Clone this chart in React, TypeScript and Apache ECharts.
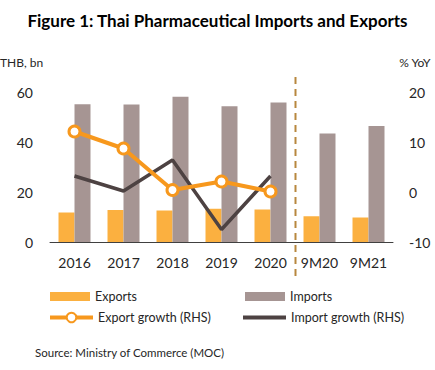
import React, { useEffect, useRef } from "react";
import * as echarts from "echarts";

const categories = ["2016", "2017", "2018", "2019", "2020", "9M20", "9M21"];
const exportsVal = [11.8, 12.8, 12.6, 13.3, 13.0, 10.3, 9.8];
const importsVal = [55.1, 55.0, 58.1, 54.3, 55.8, 43.4, 46.4];
const exportGrowth: (number | null)[] = [12.1, 8.7, 0.4, 2.1, 0.1, null, null];
const importGrowth: (number | null)[] = [3.2, 0.2, 6.4, -7.5, 3.2, null, null];
const leftTicks = { min: 0, max: 60, interval: 20 };
const rightTicks = { min: -10, max: 20, interval: 10 };

const FONT = "Lato";
const TXT = "#262626";
const C_EXP = "#FBB040";
const C_IMP = "#A69593";
const C_EXPG = "#F7981D";
const C_IMPG = "#4D4242";
const C_DASH = "#B8873E";

export default function App() {
  const ref = useRef<HTMLDivElement>(null);
  useEffect(() => {
    if (!ref.current) return;
    const chart = echarts.init(ref.current, null, { renderer: "svg" });
    const legendText = { fontFamily: FONT, fontSize: 12.5, color: TXT };
    chart.setOption({
      animation: false,
      backgroundColor: "#fff",
      textStyle: { fontFamily: FONT },
      title: {
        text: "Figure 1: Thai Pharmaceutical Imports and Exports",
        left: "center",
        top: 7,
        textStyle: { fontFamily: FONT, fontSize: 17, fontWeight: "bold", color: "#000" },
      },
      grid: { left: 50, right: 42, top: 92, bottom: 128 },
      legend: [
        { data: ["Exports"], left: 50, top: 290, itemWidth: 40, itemHeight: 9, itemGap: 4, textStyle: legendText, icon: "rect", padding: 0 },
        { data: ["Imports"], left: 245, top: 290, itemWidth: 40, itemHeight: 9, itemGap: 4, textStyle: legendText, icon: "rect", padding: 0 },
        {
          data: ["Export growth (RHS)"], left: 48, top: 311, itemWidth: 43, itemHeight: 12,
          textStyle: legendText, padding: 0,
          lineStyle: { width: 4, color: C_EXPG },
        },
        {
          data: [{ name: "Import growth (RHS)", icon: "rect" }], left: 243, top: 311, itemWidth: 43, itemHeight: 4,
          textStyle: legendText, padding: 0,
        },
      ],
      xAxis: {
        type: "category",
        data: categories,
        axisLine: { lineStyle: { color: "#404040", width: 1 } },
        axisTick: { show: false },
        axisLabel: { color: TXT, fontSize: 14, fontFamily: FONT, margin: 13 },
      },
      yAxis: [
        {
          type: "value",
          ...leftTicks,
          splitLine: { show: false },
          axisLine: { show: false },
          axisTick: { show: false },
          axisLabel: { color: TXT, fontSize: 14, fontFamily: FONT, margin: 17 },
        },
        {
          type: "value",
          ...rightTicks,
          position: "right",
          splitLine: { show: false },
          axisLine: { show: false },
          axisTick: { show: false },
          axisLabel: { color: TXT, fontSize: 14, fontFamily: FONT, margin: 16, align: "left" },
        },
      ],
      series: [
        { name: "Exports", type: "bar", data: exportsVal, barWidth: 16, barGap: "0%", itemStyle: { color: C_EXP } },
        { name: "Imports", type: "bar", data: importsVal, barWidth: 16, barGap: "0%", itemStyle: { color: C_IMP } },
        {
          name: "Export growth (RHS)", type: "line", yAxisIndex: 1, data: exportGrowth,
          symbol: "circle", symbolSize: 11, showSymbol: true,
          lineStyle: { color: C_EXPG, width: 4 },
          itemStyle: { color: "#fff", borderColor: C_EXPG, borderWidth: 3 },
          z: 5,
        },
        {
          name: "Import growth (RHS)", type: "line", yAxisIndex: 1, data: importGrowth,
          symbol: "none",
          lineStyle: { color: C_IMPG, width: 3.5 },
          itemStyle: { color: C_IMPG },
          z: 4,
        },
      ],
    });
    const p1 = chart.convertToPixel({ xAxisIndex: 0 }, "2020") as number;
    const p2 = chart.convertToPixel({ xAxisIndex: 0 }, "9M20") as number;
    const xd = Math.round((p1 + p2) / 2) + 0.5;
    chart.setOption({
      graphic: [
        { type: "text", left: 0, top: 56, style: { text: "THB, bn", fontFamily: FONT, fontSize: 12, fill: TXT } },
        { type: "text", right: 4, top: 56, style: { text: "% YoY", fontFamily: FONT, fontSize: 12, fill: TXT } },
        { type: "text", left: 35, top: 346, style: { text: "Source: Ministry of Commerce (MOC)", fontFamily: FONT, fontSize: 11.5, fill: TXT } },
        {
          type: "line", shape: { x1: xd, y1: 77, x2: xd, y2: 278 },
          style: { stroke: C_DASH, lineWidth: 2, lineDash: [7, 5] }, z: 10,
        },
      ],
    });
    return () => chart.dispose();
  }, []);
  return <div ref={ref} style={{ position: "fixed", left: 0, top: 0, width: 435, height: 370 }} />;
}
